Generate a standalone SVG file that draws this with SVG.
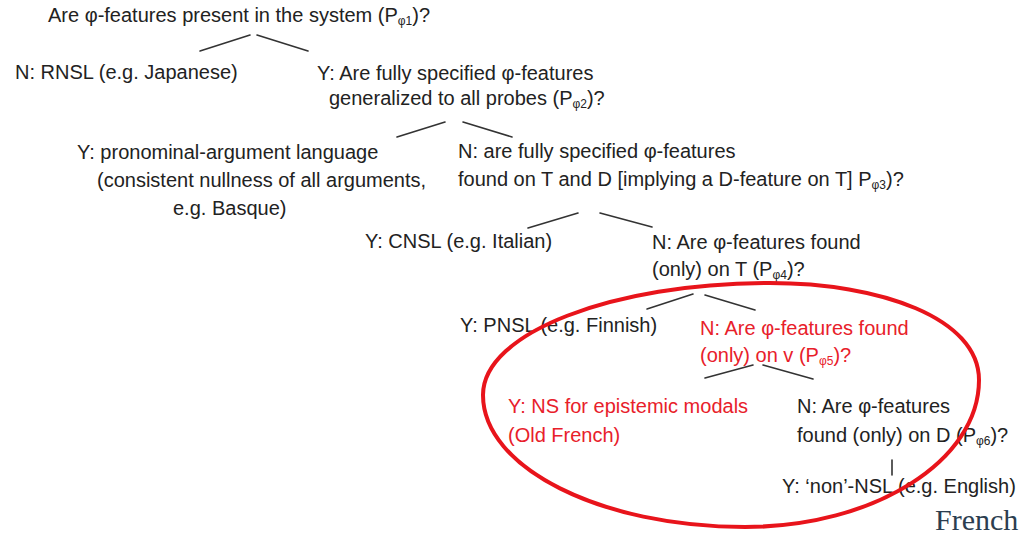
<svg xmlns="http://www.w3.org/2000/svg" width="1022" height="534" viewBox="0 0 1022 534">
  <style>
    .t { font-family: "Liberation Sans", Arial, sans-serif; font-size: 20px; fill: #222; }
    .r { fill: #e8202a; }
    .sub { font-size: 12px; }
    .c line { stroke: #333; stroke-width: 1.6; stroke-linecap: round; }
    .ring { fill: none; stroke: #e8141b; stroke-width: 4; }
    .fr { font-family: "Liberation Serif", "Times New Roman", serif; font-size: 30px; fill: #2c3e50; }
  </style>
  <rect width="1022" height="534" fill="#fff"/>

  <g id="n1"><text class="t" x="48" y="22">Are φ-features present in the system (P<tspan class="sub" dy="3">φ1</tspan><tspan dy="-3">)?</tspan></text></g>
  <g id="n2"><text class="t" x="15" y="79">N: RNSL (e.g. Japanese)</text></g>
  <g id="n3">
    <text class="t" x="317" y="80">Y: Are fully specified φ-features</text>
    <text class="t" x="329" y="105">generalized to all probes (P<tspan class="sub" dy="3">φ2</tspan><tspan dy="-3">)?</tspan></text>
  </g>
  <g id="n4">
    <text class="t" x="77" y="159">Y: pronominal-argument language</text>
    <text class="t" x="97" y="187">(consistent nullness of all arguments,</text>
    <text class="t" x="173" y="215">e.g. Basque)</text>
  </g>
  <g id="n5">
    <text class="t" x="458" y="158">N: are fully specified φ-features</text>
    <text class="t" x="458" y="186">found on T and D [implying a D-feature on T] P<tspan class="sub" dy="3">φ3</tspan><tspan dy="-3">)?</tspan></text>
  </g>
  <g id="n6"><text class="t" x="365" y="248">Y: CNSL (e.g. Italian)</text></g>
  <g id="n7">
    <text class="t" x="652" y="249">N: Are φ-features found</text>
    <text class="t" x="652" y="276">(only) on T (P<tspan class="sub" dy="3">φ4</tspan><tspan dy="-3">)?</tspan></text>
  </g>
  <g id="n8"><text class="t" x="460" y="332">Y: PNSL (e.g. Finnish)</text></g>
  <g id="n9">
    <text class="t r" x="700" y="335">N: Are φ-features found</text>
    <text class="t r" x="700" y="362">(only) on v (P<tspan class="sub" dy="3">φ5</tspan><tspan dy="-3">)?</tspan></text>
  </g>
  <g id="n10">
    <text class="t r" x="508" y="413">Y: NS for epistemic modals</text>
    <text class="t r" x="508" y="442">(Old French)</text>
  </g>
  <g id="n11">
    <text class="t" x="797" y="413">N: Are φ-features</text>
    <text class="t" x="797" y="442">found (only) on D (P<tspan class="sub" dy="3">φ6</tspan><tspan dy="-3">)?</tspan></text>
  </g>
  <g id="n12"><text class="t" x="782" y="493">Y: ‘non’-NSL (e.g. English)</text></g>

  <g id="connectors" class="c">
    <line x1="200" y1="51" x2="250" y2="35"/>
    <line x1="257" y1="35" x2="308" y2="51"/>
    <line x1="397" y1="137" x2="445" y2="122"/>
    <line x1="463" y1="122" x2="512" y2="137"/>
    <line x1="528" y1="228" x2="578" y2="213"/>
    <line x1="600" y1="213" x2="652" y2="227"/>
    <line x1="647" y1="309" x2="693" y2="294"/>
    <line x1="705" y1="295" x2="755" y2="310"/>
    <line x1="705" y1="378" x2="753" y2="365"/>
    <line x1="763" y1="365" x2="813" y2="379"/>
    <line x1="892" y1="460" x2="892" y2="475"/>
  </g>

  <g id="highlight">
    <path class="ring" d="M483 395 C483 333 612 283 770 283 C880 283 979 318 979 380 C979 461 874 527 745 527 C601 527 483 468 483 395 Z"/>
  </g>

  <g id="caption"><text class="fr" x="935" y="530">French</text></g>
</svg>
